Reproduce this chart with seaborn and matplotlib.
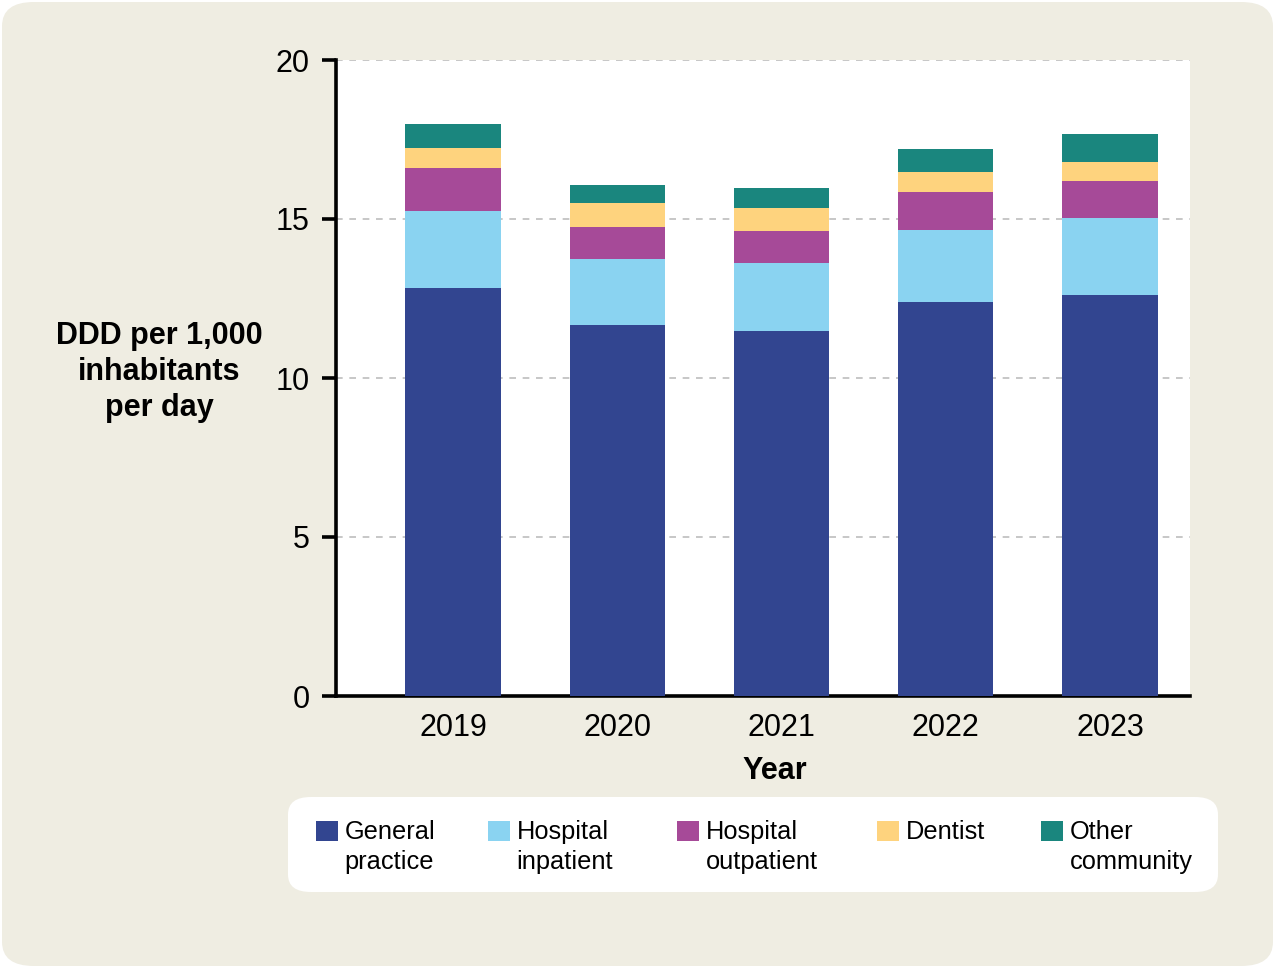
import matplotlib
matplotlib.use("Agg")
import matplotlib.pyplot as plt
from matplotlib.patches import FancyBboxPatch, Rectangle
from matplotlib.legend_handler import HandlerPatch
import numpy as np
import pandas as pd
import seaborn as sns

years = ["2019", "2020", "2021", "2022", "2023"]
categories = ["General practice", "Hospital inpatient", "Hospital outpatient", "Dentist", "Other community"]
legend_labels = ["General\npractice", "Hospital\ninpatient", "Hospital\noutpatient", "Dentist\n ", "Other\ncommunity"]
general_practice = [12.83, 11.67, 11.48, 12.39, 12.61]
hospital_inpatient = [2.42, 2.07, 2.14, 2.26, 2.42]
hospital_outpatient = [1.35, 1.01, 1.00, 1.20, 1.16]
dentist = [0.63, 0.75, 0.73, 0.63, 0.60]
other_community = [0.76, 0.57, 0.62, 0.72, 0.88]
colors = ["#324590", "#8AD3F1", "#A64A98", "#FED37E", "#1A867E"]

series = [general_practice, hospital_inpatient, hospital_outpatient, dentist, other_community]

sns.set_style("white")
plt.rcParams["font.family"] = ["Liberation Sans", "DejaVu Sans"]
plt.rcParams["text.color"] = "black"
plt.rcParams["axes.labelcolor"] = "black"
plt.rcParams["xtick.color"] = "black"
plt.rcParams["ytick.color"] = "black"

W, H = 1275, 968
fig = plt.figure(figsize=(W / 100, H / 100), dpi=100, facecolor="white")
bg = FancyBboxPatch((2 / W, 2 / H), 1 - 4 / W, 1 - 4 / H,
                    boxstyle="round,pad=0,rounding_size=0.025",
                    transform=fig.transFigure, facecolor="#EFEDE2", edgecolor="none", zorder=-2)
fig.patches.append(bg)

ax = fig.add_axes([336 / W, 1 - 696 / H, 854 / W, 636 / H])
ax.set_facecolor("white")

cum = np.cumsum(np.array(series), axis=0)
for i in range(len(categories) - 1, -1, -1):
    df = pd.DataFrame({"Year": years, "value": cum[i]})
    sns.barplot(data=df, x="Year", y="value", order=years, color=colors[i],
                width=0.58, linewidth=0, saturation=1, ax=ax, zorder=3)

ax.set_ylim(0, 20)
ax.set_xlim(-0.712, 4.487)
ax.set_yticks([0, 5, 10, 15, 20])
ax.yaxis.grid(True, linestyle=(0, (4, 4)), color="#BDBDBD", linewidth=1.2, zorder=0)
ax.set_axisbelow(True)
for s in ["top", "right"]:
    ax.spines[s].set_visible(False)
for s in ["left", "bottom"]:
    ax.spines[s].set_linewidth(2.6)
    ax.spines[s].set_color("black")
ax.tick_params(axis="y", which="major", direction="out", length=10, width=2.6,
               labelsize=22, pad=9, left=True)
ax.tick_params(axis="x", length=0, labelsize=22, pad=12)
ax.set_xlabel("Year", fontsize=22, fontweight="bold", labelpad=8)
ax.xaxis.set_label_coords((774.5 - 336) / 854, -0.095)
ax.set_ylabel("")

fig.text(159 / W, 1 - 372 / H, "DDD per 1,000\ninhabitants\nper day", ha="center", va="center",
         fontsize=22, fontweight="bold", multialignment="center", linespacing=1.27)

# legend panel
lp = FancyBboxPatch((288 / W, 1 - 892 / H), 930 / W, 95 / H,
                    boxstyle="round,pad=0,rounding_size=0.018",
                    transform=fig.transFigure, facecolor="white", edgecolor="none", zorder=-1)
fig.patches.append(lp)


class TopHandler(HandlerPatch):
    def create_artists(self, legend, orig_handle, xdescent, ydescent, width, height, fontsize, trans):
        shift = fontsize * 1.3 - 12
        p = Rectangle((-xdescent, -ydescent + shift), width, height,
                      facecolor=orig_handle.get_facecolor(), edgecolor="none", transform=trans)
        return [p]


legend_x = [316, 488, 677, 877, 1041]
for lx, lab, c in zip(legend_x, legend_labels, colors):
    h = Rectangle((0, 0), 1, 1, facecolor=c, edgecolor="none")
    leg = fig.legend([h], [lab], loc="upper left", bbox_to_anchor=(lx / W, 1 - 820 / H),
                     frameon=False, fontsize=18.3, handlelength=0.87, handleheight=0.87,
                     handletextpad=0.25, borderpad=0, borderaxespad=0,
                     handler_map={Rectangle: TopHandler()})
    for t in leg.get_texts():
        t.set_linespacing(1.3)

fig.savefig("out.png", dpi=100, facecolor="white")
